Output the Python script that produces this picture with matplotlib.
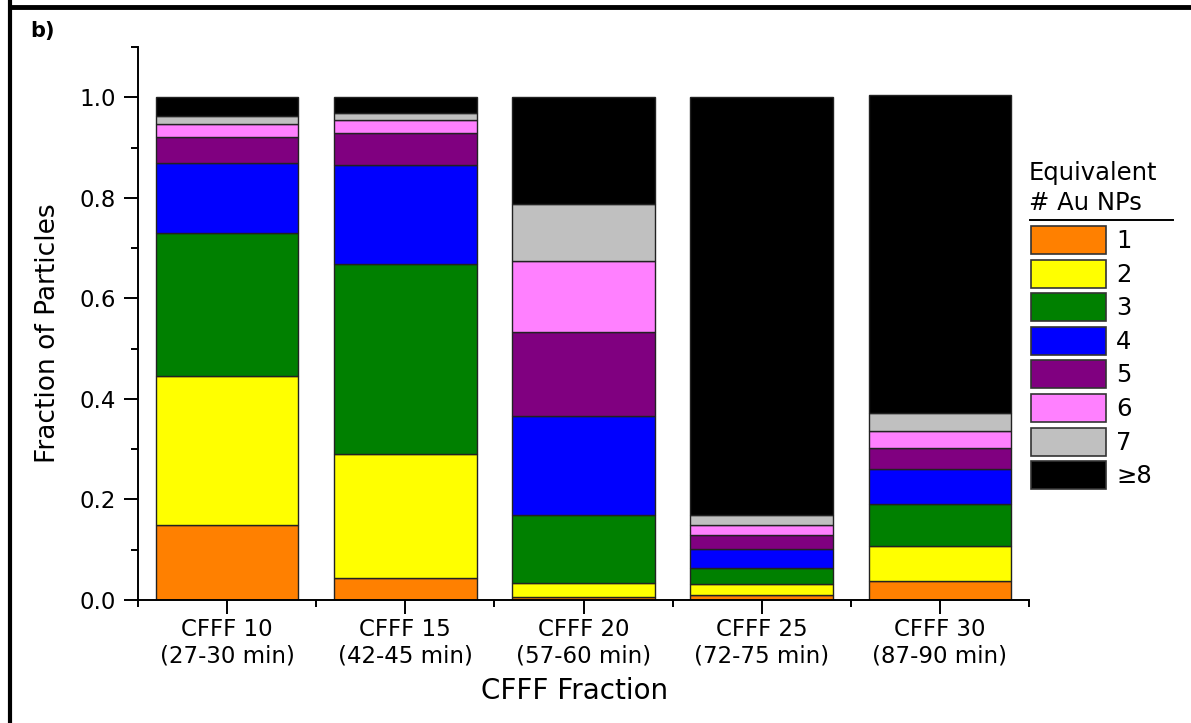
import matplotlib
matplotlib.use("Agg")
import matplotlib.pyplot as plt
from matplotlib.patches import Rectangle
from matplotlib.lines import Line2D
from matplotlib.ticker import MultipleLocator, FormatStrFormatter
import numpy as np

plt.rcParams['font.family'] = ['DejaVu Sans']

# Fractions and their labels
fractions = ["CFFF 10\n(27-30 min)", "CFFF 15\n(42-45 min)", "CFFF 20\n(57-60 min)",
             "CFFF 25\n(72-75 min)", "CFFF 30\n(87-90 min)"]
np_labels = ["1", "2", "3", "4", "5", "6", "7", "\u22658"]
np_colors = ["#FF8000", "#FFFF00", "#008000", "#0000FF", "#800080", "#FF80FF", "#C0C0C0", "#000000"]

# fraction of particles per equivalent number of Au NPs (one list per class, one value per fraction)
n1 = [0.150, 0.044, 0.005, 0.010, 0.038]
n2 = [0.296, 0.246, 0.029, 0.021, 0.069]
n3 = [0.285, 0.378, 0.136, 0.032, 0.084]
n4 = [0.139, 0.198, 0.196, 0.039, 0.069]
n5 = [0.050, 0.062, 0.168, 0.028, 0.042]
n6 = [0.026, 0.027, 0.141, 0.020, 0.035]
n7 = [0.017, 0.013, 0.112, 0.020, 0.034]
n8 = [0.037, 0.032, 0.213, 0.830, 0.633]
series = [n1, n2, n3, n4, n5, n6, n7, n8]

W, H = 1191, 723
fig = plt.figure(figsize=(W / 100, H / 100), dpi=100)
ax_l, ax_r, ax_b, ax_t = 138, 1029, 600, 47
ax = fig.add_axes([ax_l / W, 1 - ax_b / H, (ax_r - ax_l) / W, (ax_b - ax_t) / H])

x = np.arange(1, len(fractions) + 1)
bottom = np.zeros(len(fractions))
for vals, col in zip(series, np_colors):
    vals = np.array(vals)
    ax.bar(x, vals, width=0.8, bottom=bottom, color=col, edgecolor="#222222", linewidth=1.0)
    bottom += vals

ax.set_xlim(0.5, len(fractions) + 0.5)
ax.set_ylim(0, 1.1)
ax.set_xticks(x)
ax.set_xticklabels(fractions, fontsize=16.5, linespacing=1.2)
ax.xaxis.set_minor_locator(MultipleLocator(1, offset=0.5))
ax.yaxis.set_major_locator(MultipleLocator(0.2))
ax.yaxis.set_minor_locator(MultipleLocator(0.1))
ax.yaxis.set_major_formatter(FormatStrFormatter("%.1f"))
ax.tick_params(axis="y", which="major", direction="out", length=10, width=1.4, labelsize=16.5, pad=6)
ax.tick_params(axis="y", which="minor", direction="out", length=5, width=1.4)
ax.tick_params(axis="x", which="major", direction="out", length=10, width=1.4, pad=3)
ax.tick_params(axis="x", which="minor", direction="out", length=5, width=1.4)
for s in ["top", "right"]:
    ax.spines[s].set_visible(False)
for s in ["left", "bottom"]:
    ax.spines[s].set_linewidth(1.4)

ax.set_xlabel("CFFF Fraction", fontsize=20, va="center")
ax.set_ylabel("Fraction of Particles", fontsize=19, va="center")
ax.xaxis.set_label_coords((575 - ax_l) / (ax_r - ax_l), (ax_b - 691) / (ax_b - ax_t))
ax.yaxis.set_label_coords((48 - ax_l) / (ax_r - ax_l), (ax_b - 333) / (ax_b - ax_t))

# Panel frame and label
fig.add_artist(Line2D([10 / W, 1], [1 - 7 / H, 1 - 7 / H], color="black", lw=3.5,
                      transform=fig.transFigure))
fig.add_artist(Line2D([10 / W, 10 / W], [0, 1], color="black", lw=3,
                      transform=fig.transFigure))
fig.text(30 / W, 1 - 31 / H, "b)", fontsize=15, fontweight="bold", va="center", ha="left")

# Legend drawn in figure pixel coordinates
fig.text(1029 / W, 1 - 173 / H, "Equivalent", fontsize=17.5, va="center", ha="left")
fig.text(1029 / W, 1 - 203 / H, "# Au NPs", fontsize=17.5, va="center", ha="left")
fig.add_artist(Line2D([1030 / W, 1173 / W], [1 - 220 / H, 1 - 220 / H], color="black", lw=1.4,
                      transform=fig.transFigure))
for i, (lab, col) in enumerate(zip(np_labels, np_colors)):
    y_top = 226 + i * 33.6
    fig.add_artist(Rectangle((1031 / W, 1 - (y_top + 28) / H), 75 / W, 28 / H,
                             facecolor=col, edgecolor="#333333", lw=1.2,
                             transform=fig.transFigure))
    fig.text(1116 / W, 1 - (y_top + 15) / H, lab, fontsize=17.5, va="center", ha="left")

fig.savefig("out.png", dpi=100)
